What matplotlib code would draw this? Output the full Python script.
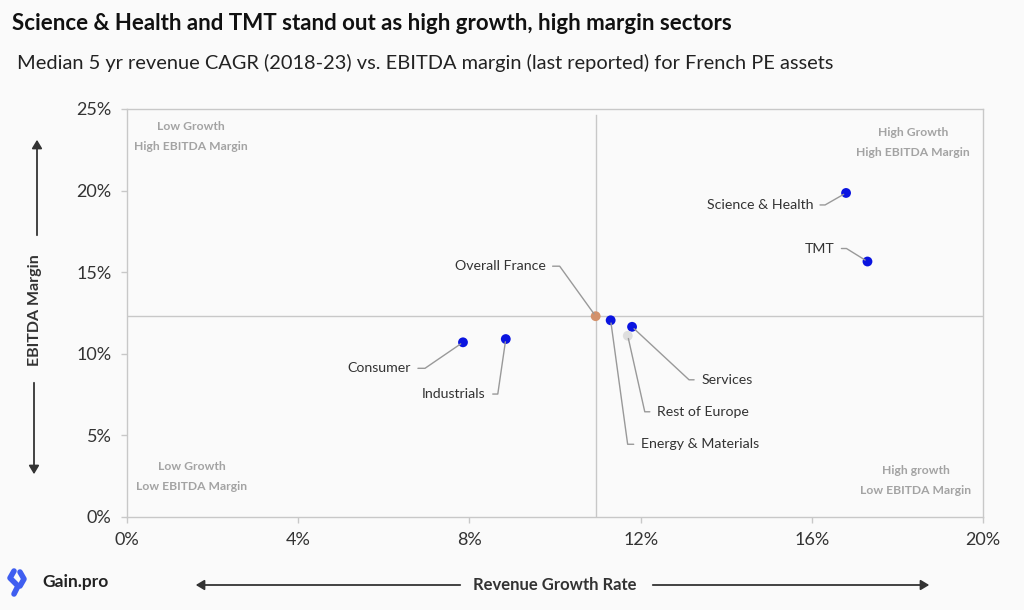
import numpy as np
import matplotlib
matplotlib.use("Agg")
from matplotlib import pyplot as plt
from matplotlib.patches import FancyArrowPatch

plt.rcParams['font.family'] = ['Lato', 'DejaVu Sans']

# DATA
sectors = ["Science & Health", "TMT", "Overall France", "Energy & Materials",
           "Services", "Rest of Europe", "Consumer", "Industrials"]
growth = [16.8, 17.3, 10.95, 11.3, 11.8, 11.7, 7.85, 8.85]
margin = [19.85, 15.65, 12.3, 12.05, 11.65, 11.1, 10.7, 10.9]
kinds = ["sector", "sector", "france", "sector", "sector", "europe", "sector", "sector"]
xticks = [0, 4, 8, 12, 16, 20]
yticks = [0, 5, 10, 15, 20, 25]

colors = {"sector": "#0a14e0", "france": "#d3916b", "europe": "#dedede"}

# label layout: text offset (pixels), line corner offset (pixels), alignment
layout = {
    "Science & Health": ((-33, -12), (-21, -12), "right"),
    "TMT": ((-33, 13), (-21, 13), "right"),
    "Overall France": ((-50, 50), (-36, 50), "right"),
    "Consumer": ((-52, -26), (-38, -26), "right"),
    "Industrials": ((-20, -55), (-8, -55), "right"),
    "Services": ((69, -53), (57, -53), "left"),
    "Rest of Europe": ((29, -76), (17, -76), "left"),
    "Energy & Materials": ((30, -124), (17, -124), "left"),
}

bg = "#fafafa"
grey = "#c8c8c8"
dark = "#333333"

fig = plt.figure(figsize=(10.24, 6.10), dpi=100, facecolor=bg)
ax = fig.add_axes([0.124, 0.1525, 0.836, 0.669], facecolor=bg)

ax.set_xlim(0, 20)
ax.set_ylim(0, 25)
ax.set_xticks(xticks)
ax.set_xticklabels([f"{t}%" for t in xticks])
ax.set_yticks(yticks)
ax.set_yticklabels([f"{t}%" for t in yticks])
for s in ax.spines.values():
    s.set_color(grey)
    s.set_linewidth(1)
ax.tick_params(colors=grey, labelcolor=dark, labelsize=13, length=4, width=1, pad=7)

# crosshair at Overall France
fi = sectors.index("Overall France")
ax.axhline(margin[fi], color=grey, lw=1, zorder=1)
ax.axvline(growth[fi], color=grey, lw=1, ymax=0.985, zorder=1)

for name, gx, my, k in zip(sectors, growth, margin, kinds):
    ax.scatter(gx, my, s=50, color=colors[k], zorder=4, edgecolors="none")
    (tx, ty), (cx, cy), ha = layout[name]
    ang = np.degrees(np.arctan2(cy, cx))
    ax.annotate(name, (gx, my), xytext=(tx, ty), textcoords="offset pixels",
                ha=ha, va="center", fontsize=10.2, color=dark, zorder=5,
                arrowprops=dict(arrowstyle="-", color="#999999", lw=1,
                                shrinkA=3, shrinkB=2,
                                connectionstyle=f"angle,angleA=0,angleB={ang},rad=0"))

# quadrant labels
qkw = dict(ha="center", va="center", fontsize=8.7, color="#a3a3a3", fontweight="bold",
           transform=fig.transFigure, linespacing=2.0)
fig.text(191/1024, 1-137/610, "Low Growth\nHigh EBITDA Margin", **qkw)
fig.text(913/1024, 1-142/610, "High Growth\nHigh EBITDA Margin", **qkw)
fig.text(192/1024, 1-476/610, "Low Growth\nLow EBITDA Margin", **qkw)
fig.text(916/1024, 1-481/610, "High growth\nLow EBITDA Margin", **qkw)

# titles
fig.text(12/1024, 1-24/610, "Science & Health and TMT stand out as high growth, high margin sectors",
         fontsize=16, fontweight="bold", color="#111111", va="center")
fig.text(17/1024, 1-63/610, "Median 5 yr revenue CAGR (2018-23) vs. EBITDA margin (last reported) for French PE assets",
         fontsize=14.4, color="#222222", va="center")

# axis titles with arrows
fig.text(35/1024, 1-310/610, "EBITDA Margin", rotation=90, ha="center", va="center",
         fontsize=11.5, fontweight="bold", color=dark)
fig.text(555/1024, 1-585/610, "Revenue Growth Rate", ha="center", va="center",
         fontsize=12, fontweight="bold", color=dark)

def farrow(x0, y0, x1, y1):
    fig.patches.append(FancyArrowPatch((x0/1024, 1-y0/610), (x1/1024, 1-y1/610),
                                       transform=fig.transFigure, arrowstyle="-|>,head_length=5,head_width=3",
                                       color=dark, lw=1.3, mutation_scale=1))

farrow(37, 238, 37, 137)
farrow(34, 380, 34, 477)
farrow(463, 585, 193, 585)
farrow(650, 585, 932, 585)

# logo
fig.text(42/1024, 1-582/610, "Gain.pro", fontsize=12.5, fontweight="bold", color="#222222", va="center")
fig.lines.append(plt.Line2D([14/1024, 10/1024, 18/1024, 14/1024], [1-571/610, 1-578/610, 1-586/610, 1-594/610],
                            transform=fig.transFigure, color="#3f5ef0", lw=4, solid_capstyle="round"))
fig.lines.append(plt.Line2D([20/1024, 24/1024, 20/1024], [1-572/610, 1-579/610, 1-586/610],
                            transform=fig.transFigure, color="#3f5ef0", lw=4, solid_capstyle="round"))

fig.savefig("out.png", dpi=100, facecolor=bg)
